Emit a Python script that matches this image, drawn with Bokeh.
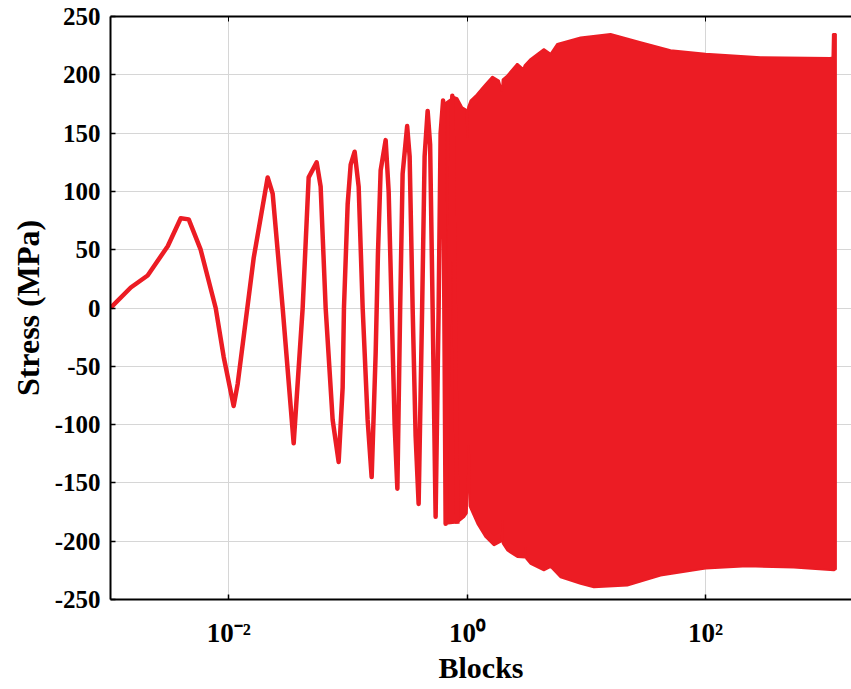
from bokeh.plotting import figure
from bokeh.models import Range1d, FixedTicker, LogAxis, CustomJSTickFormatter
from bokeh.embed import file_html
from bokeh.resources import INLINE

# ---- data ----
# discrete early cycles (Blocks, Stress MPa)
blocks_cycle = [0.00102, 0.00151, 0.00209, 0.00308, 0.00396, 0.00462, 0.00582, 0.00778,
                0.00908, 0.01101, 0.01190, 0.01621, 0.02123, 0.02339, 0.02836, 0.03508,
                0.04174, 0.04687, 0.05469, 0.05907, 0.06507, 0.07448, 0.08364, 0.09036,
                0.09266, 0.09952, 0.1055, 0.1139, 0.1231, 0.1330, 0.1464, 0.1582,
                0.1709, 0.1786, 0.1882, 0.2073, 0.2197, 0.2327, 0.2466, 0.2599,
                0.2744, 0.2877, 0.3140, 0.3295, 0.3491, 0.3699, 0.3920, 0.4195,
                0.4400, 0.4665, 0.4895, 0.5136, 0.5442, 0.5768, 0.5994, 0.6290,
                0.6602, 0.7513, 0.8276]
stress_cycle = [0, 17.6, 27.9, 53, 77, 76, 50, 0,
                -42, -84, -65, 43, 112, 98, 0, -116,
                0, 112, 125, 104, 0, -96, -132, -68,
                0, 89, 123, 134, 104, 0, -96, -145,
                -39, 46, 118, 144, 100, 0, -100, -155,
                0, 115, 156, 130, 0, -110, -168, 0,
                130, 169, 140, 0, -179, 0, 150, 178,
                -185, 182, -185]

# dense region: upper and lower envelopes
blocks_upper = [0.660, 0.775, 0.828, 0.911, 0.990, 1.004, 1.018, 1.070, 1.178, 1.298,
                1.429, 1.627, 1.848, 1.960, 1.985, 2.174, 2.636, 2.960, 3.030, 3.408,
                4.406, 5.015, 5.706, 8.951, 15.97, 28.50, 50.87, 100.0, 289.2, 1117,
                1160, 1170, 1240]
stress_upper = [176, 181, 180, 172, 170, 146, 172, 178, 182, 187,
                192, 198.5, 195, 186, 196, 199.5, 209.5, 205, 208, 213.5,
                222, 218, 226.5, 232, 235, 228, 221, 218, 215, 214.5,
                215, 235, 235]
blocks_lower = [0.660, 0.828, 0.940, 0.995, 1.035, 1.050, 1.070, 1.218, 1.429, 1.678,
                1.955, 1.973, 1.990, 2.174, 2.636, 3.060, 3.095, 3.130, 3.408, 4.406,
                5.015, 6.083, 8.951, 11.57, 22.05, 41.94, 100.0, 223.7, 550.3, 1191, 1240]
stress_lower = [-185, -184, -179.5, -176, -118, -170, -172, -185, -196.5, -203.5,
                -200, -182, -202, -208, -213.5, -214, -205, -215, -219.5, -225,
                -222, -231, -236.5, -239.5, -238, -229.5, -223.5, -221.5, -222.5, -225, -224]

x_ticks = [0.01, 1, 100]
y_ticks = [-250, -200, -150, -100, -50, 0, 50, 100, 150, 200, 250]

RED = "#ec1c24"
FONT = "Liberation Serif"

p = figure(width=851, height=689, x_axis_type="log",
           x_range=Range1d(0.00102, 1676), y_range=Range1d(-250, 250),
           output_backend="svg", toolbar_location=None,
           min_border_left=110, min_border_right=0, min_border_top=16, min_border_bottom=90)
p.outline_line_color = None
p.background_fill_color = "white"
p.border_fill_color = "white"

# dense band
poly_x = blocks_upper + blocks_lower[::-1]
poly_y = stress_upper + stress_lower[::-1]
p.patch(poly_x, poly_y, fill_color=RED, line_color=RED, line_width=2)
# early cycles
p.line(blocks_cycle, stress_cycle, line_color=RED, line_width=4.5, line_join="round")

# axes styling
xa = p.xaxis[0]
xa.ticker = FixedTicker(ticks=x_ticks, minor_ticks=[])
xa.formatter = CustomJSTickFormatter(code="""
const sup = {'-': '\u207b', '0': '\u2070', '1': '\u00b9', '2': '\u00b2', '3': '\u00b3',
             '4': '\u2074', '5': '\u2075'};
const e = String(Math.round(Math.log10(tick)));
return '10' + e.split('').map(c => sup[c]).join('');
""")
ya = p.yaxis[0]
ya.ticker = FixedTicker(ticks=y_ticks, minor_ticks=[])
ya.formatter = CustomJSTickFormatter(code="return String(tick);")
for ax in (xa, ya):
    ax.axis_line_color = "black"
    ax.axis_line_width = 2
    ax.major_tick_in = 5
    ax.major_tick_out = 0
    ax.minor_tick_line_color = None
    ax.major_tick_line_color = "black"
    ax.major_tick_line_width = 1.5
    ax.major_label_text_font = FONT
    ax.major_label_text_font_style = "bold"
    ax.major_label_text_color = "black"
    ax.axis_label_text_font = FONT
    ax.axis_label_text_font_style = "bold"
    ax.axis_label_text_color = "black"

xa.axis_label = "Blocks"
xa.axis_label_text_font_size = "30px"
xa.major_label_text_font_size = "27px"
xa.major_label_standoff = 18
xa.axis_label_standoff = 0
ya.axis_label = "Stress (MPa)"
ya.axis_label_text_font_size = "32px"
ya.major_label_text_font_size = "25px"
ya.major_label_standoff = 10
ya.axis_label_standoff = 6

top = LogAxis(ticker=FixedTicker(ticks=x_ticks, minor_ticks=[]),
              formatter=CustomJSTickFormatter(code="return '';"),
              major_label_text_font_size="8px", major_label_text_alpha=0,
              major_label_standoff=0, axis_line_color="black",
              axis_line_width=2, major_tick_in=5, major_tick_out=0,
              major_tick_line_color="black", minor_tick_line_color=None)
p.add_layout(top, "above")

p.xgrid.ticker = FixedTicker(ticks=x_ticks, minor_ticks=[])
p.ygrid.ticker = FixedTicker(ticks=y_ticks, minor_ticks=[])
for g in (p.xgrid[0], p.ygrid[0]):
    g.grid_line_color = "#d6d6d6"
    g.grid_line_width = 1

open("out.html", "w").write(file_html(p, INLINE))
